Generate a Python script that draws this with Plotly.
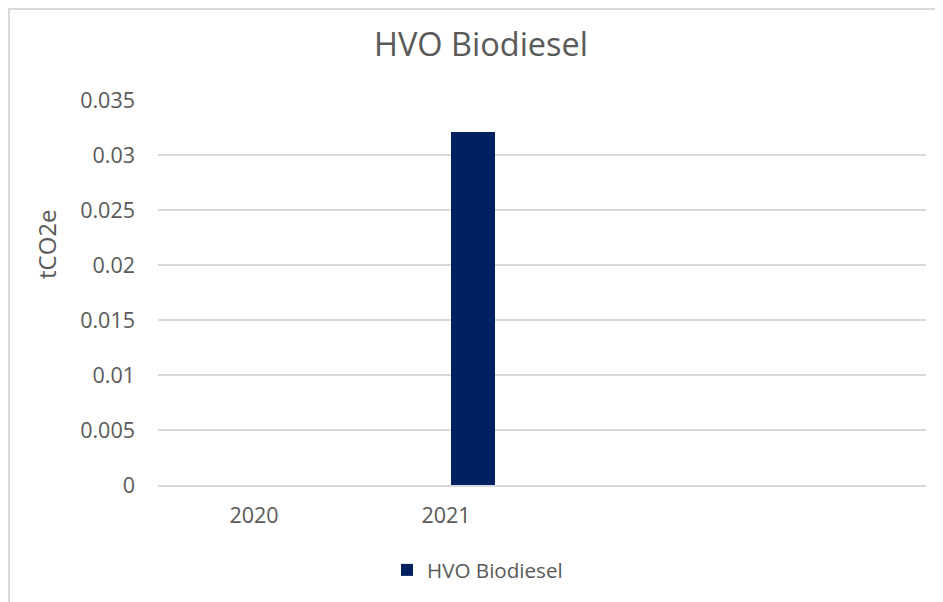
import plotly.graph_objects as go

# ---- data ----
categories = ["2020", "2021"]
values = [0, 0.0321]
series_name = "HVO Biodiesel"
y_ticks = [0, 0.005, 0.01, 0.015, 0.02, 0.025, 0.03, 0.035]
y_tick_labels = ["0", "0.005", "0.01", "0.015", "0.02", "0.025", "0.03", "0.035"]
n_slots = 4  # category slots on the axis (two empty)

OFF = 8  # page body margin in the browser
W, H = 943 - OFF, 602 - OFF
# plot area in screen pixels: x 158..926, y 100..485
L = 158 - OFF
T = 100 - OFF
R = W - (926 - OFF)
B = H - (485 - OFF)
pw, ph = W - L - R, H - T - B

def px_x(p):  # screen pixel -> paper x
    return (p - OFF - L) / pw

def px_y(p):  # screen pixel -> paper y
    return (H - B - (p - OFF)) / ph

FONT = "Open Sans"
GREY = "#595959"

xs = list(range(len(categories)))

fig = go.Figure()
fig.add_trace(go.Bar(
    x=xs, y=values, name=series_name,
    marker=dict(color="#002060", line=dict(width=0)),
    width=0.229, offset=0.026,
    showlegend=True,
))

fig.update_layout(
    width=W, height=H,
    margin=dict(l=L, r=R, t=T, b=B),
    paper_bgcolor="white", plot_bgcolor="white",
    font=dict(family=FONT, color=GREY, size=21),
    title=dict(text="HVO Biodiesel", x=(481 - OFF) / W, xanchor="center", xref="container",
               y=1 - (45 - OFF) / H, yanchor="middle", yref="container",
               font=dict(family=FONT, size=32.5, color=GREY)),
    showlegend=True,
    legend=dict(orientation="h", x=px_x(387), xanchor="left", y=px_y(570), yanchor="middle",
                font=dict(family=FONT, size=20.6, color=GREY), bgcolor="rgba(0,0,0,0)"),
    bargap=0,
)

fig.update_xaxes(
    range=[-0.5, n_slots - 0.5],
    tickvals=xs, ticktext=categories,
    showgrid=False, zeroline=False,
    showline=True, linecolor="#d9d9d9", linewidth=1.5,
    ticks="", ticklabelstandoff=10,
    tickfont=dict(family=FONT, size=21.5, color=GREY),
)
fig.update_yaxes(
    range=[0, 0.035],
    tickvals=y_ticks, ticktext=y_tick_labels,
    showgrid=True, gridcolor="#d9d9d9", gridwidth=1.5,
    zeroline=False, showline=False,
    ticks="", ticklabelstandoff=22,
    tickfont=dict(family=FONT, size=21.5, color=GREY),
)

fig.add_annotation(
    text="tCO2e", textangle=-90, xref="paper", yref="paper",
    x=px_x(46), y=px_y(244), xanchor="center", yanchor="middle",
    showarrow=False, font=dict(family=FONT, size=24, color=GREY),
)

fig.add_shape(
    type="rect", xref="paper", yref="paper",
    x0=px_x(9), x1=px_x(980), y0=px_y(660), y1=px_y(9),
    line=dict(color="#d9d9d9", width=2), fillcolor="rgba(0,0,0,0)", layer="below",
)

fig.write_html("out.html")
